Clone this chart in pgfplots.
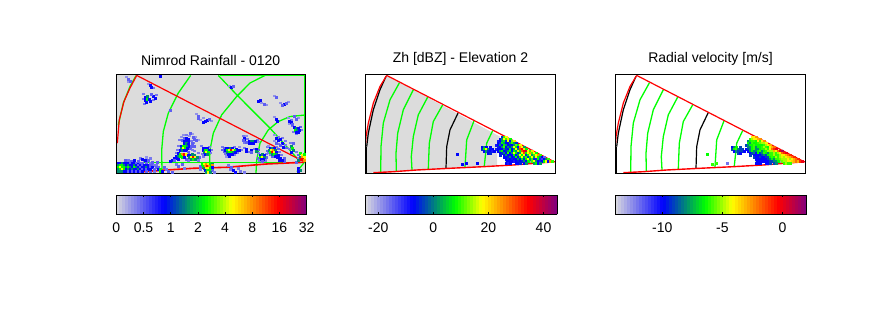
\documentclass[border=0pt]{standalone}
\usepackage{fontspec}
\setmainfont{Liberation Sans}
\usepackage{pgfplots}
\usepackage{pgfplotstable}
\pgfplotsset{compat=1.18}
\definecolor{bggray}{RGB}{220,220,220}
\definecolor{ringgreen}{RGB}{0,255,0}
\definecolor{wedgered}{RGB}{255,0,0}

% x y dbz vel, image pixels; the same gates in both radar panels
\pgfplotstableread{
x y dbz vel
502 137 -5 -4
504 137 10 -4
506 137 18 -2.5
500 139 -7 -6
502 139 2 -5
504 139 18 -4
506 139 10 -4
508 139 20 -3
510 139 8 -2.5
498 141 -9 -8
500 141 -7 -6.4
502 141 2 -6
504 141 8 -6
506 141 -5 -6.4
508 141 18 -4
510 141 -7 -6
512 141 12 -4
514 141 20 -2.5
498 143 -7 -6.4
500 143 -9 -8
502 143 8 -6
504 143 2 -6.4
506 143 -7 -6.4
508 143 -7 -6
510 143 2 -5.5
512 143 10 -5
514 143 2 -5
516 143 -5 -4
496 145 -9 -9
498 145 -7 -8
500 145 2 -6.4
502 145 -7 -6.4
504 145 8 -6
506 145 2 -6.4
508 145 -7 -6.4
510 145 -5 -6.4
512 145 -7 -6.4
514 145 2 -6
516 145 12 -5
518 145 8 -4
520 145 18 -3
482 147 -7 -10
484 147 2 -8
486 147 -7 -6.4
490 147 -7 -9
498 147 -5 -8
500 147 -7 -8
502 147 2 -6.4
504 147 10 -6
506 147 -7 -8
508 147 2 -6.4
510 147 -5 -6.4
512 147 2 -6
514 147 18 -5
516 147 8 -6
518 147 -7 -6.4
520 147 25 -4
522 147 18 -3
524 147 2 -2
482 149 -5 -9
484 149 8 -6.4
486 149 18 -6
488 149 2 -8
490 149 -7 -9
492 149 -7 -9
496 149 -9 -10
498 149 -7 -9
500 149 -7 -8
502 149 -7 -6.4
504 149 2 -6
506 149 -5 -8
508 149 -7 -8
510 149 8 -6.4
512 149 -7 -6
514 149 2 -6
516 149 18 -5
518 149 2 -6
520 149 30 -4
522 149 35 -2
524 149 20 -1
526 149 8 0
484 151 -7 -10
486 151 2 -8
488 151 -5 -9
490 151 -7 -9
492 151 -9 -9
494 151 -7 -10
498 151 -7 -10
500 151 2 -8
502 151 8 -6.4
504 151 -7 -8
506 151 -5 -8
508 151 2 -6.4
510 151 8 -6
512 151 -7 -8
514 151 8 -6.4
516 151 2 -6
518 151 20 -5
520 151 8 -5
522 151 30 -5
524 151 35 -3
526 151 40 -4
528 151 18 -2
530 151 10 0
532 151 20 1
488 153 -7 -9
490 153 -5 -10
500 153 -7 -10
502 153 -5 -9
504 153 2 -8
506 153 -7 -10
508 153 10 -6.4
510 153 -7 -9
512 153 2 -8
514 153 18 -6
516 153 8 -6.4
518 153 -5 -8
520 153 2 -6
522 153 18 -6
524 153 30 -5
526 153 8 -6
528 153 18 -5
530 153 25 -4
532 153 10 -2
534 153 18 -1
536 153 8 0
500 155 -5 -9
504 155 -7 -10
506 155 2 -10
508 155 -7 -10
510 155 -7 -10
512 155 -7 -9
514 155 8 -8
516 155 -7 -9
518 155 2 -6.4
520 155 18 -6
522 155 8 -6
524 155 18 -5
526 155 -5 -6
528 155 8 -6
530 155 18 -5
532 155 2 -4
534 155 10 -4
536 155 18 -3
538 155 25 -2
540 155 10 -1
504 157 -7 -9
506 157 -7 -10
508 157 -5 -10
510 157 2 -9
512 157 -7 -10
514 157 -5 -10
516 157 8 -9
518 157 -7 -9
520 157 8 -6.4
522 157 18 -6
524 157 2 -6.4
526 157 10 -5
528 157 -5 -6
530 157 8 -5
532 157 18 -4.5
534 157 2 -5
536 157 18 -4
538 157 8 -3.5
540 157 2 -3
542 157 -7 -2
544 157 -15 -1
506 159 -7 -10
508 159 -9 -10
510 159 -7 -10
512 159 -5 -10
514 159 -7 -10
516 159 -7 -10
518 159 2 -9
520 159 -7 -8
522 159 8 -6.4
524 159 -5 -8
526 159 8 -6
528 159 18 -6
530 159 2 -5.5
532 159 10 -5
534 159 -5 -5
536 159 -9 -5
538 159 8 -4
540 159 -9 -5
542 159 -12 -4
544 159 -7 -3
546 159 2 -2
548 159 10 -1
507 161 -7 -10
509 161 -7 -10
512 161 -7 -10
514 161 -9 -10
516 161 -7 -10
518 161 -5 -10
520 161 -7 -9
522 161 -5 -9
524 161 2 -8
526 161 -7 -8
528 161 8 -6.4
532 161 10 -5.5
534 161 18 -5
536 161 2 -5
538 161 -7 -4
540 161 -9 -4
542 161 -7 -3.5
544 161 8 -3
546 161 18 -2
548 161 -7 -3
550 161 25 -1
552 161 10 0
506 163 -7 -10
508 163 -9 -10
510 163 -7 -10
516 163 -7 -10
518 163 -7 -10
520 163 -5 -9
524 163 -7 -9
526 163 2 -8
534 163 2 -6
536 163 8 -5
538 163 -7 -6
540 163 2 -6
457 154 -7 -6.4
462 164 -7 -6
466 163 -7 -6
477 163 -7 -12
}\radargates

\pgfplotsset{
  colormap={radar}{rgb255(0cm)=(220,220,222); rgb255(25cm)=(0,0,255); rgb255(47cm)=(0,255,0);
    rgb255(61cm)=(255,255,0); rgb255(85cm)=(255,0,0); rgb255(100cm)=(128,0,128)},
  panel/.style={
    scale only axis, width=190.4pt, height=98pt,
    y dir=reverse, ymin=75.3, ymax=173,
    xtick=\empty, ytick=\empty,
    axis line style={black, line width=1pt},
    title style={at={(0.5,1)}, anchor=south, yshift=0pt, font=\fontsize{14}{16}\selectfont},
    colorbar horizontal, colorbar sampled,
    axis on top,
  },
  cbar/.style={
    at={(0,-0.2245)}, anchor=north west,
    scale only axis, height=19.3pt,
    samples=65,
    xtick pos=both, xticklabel pos=lower,
    tick align=inside, major tick length=2pt,
    tick style={black, line width=.7pt},
    axis line style={black, line width=1pt},
    ticklabel style={font=\fontsize{14}{16}\selectfont},
    xticklabel style={yshift=-5pt},
  },
  ring/.style={ringgreen, line width=1.3pt},
  edge/.style={wedgered, line width=1.2pt},
  blackring/.style={black, line width=1.2pt},
  gates/.style={scatter, only marks, mark=square*, mark size=1pt, point meta=explicit,
    scatter/use mapped color={draw=mapped color, fill=mapped color}},
}
\newcommand{\radarlines}{
  \addplot[ring] coordinates {(399.3,83.3) (390,100) (383.3,123.3) (381,146.7) (380.7,172.3)};
  \addplot[ring] coordinates {(413.3,90) (403.3,110) (397.7,133.3) (396,153.3) (396.3,171)};
  \addplot[ring] coordinates {(427.7,97.3) (418.3,115) (413.3,136.7) (411.3,156.7) (412,170)};
  \addplot[ring] coordinates {(442.7,105) (433.3,121.7) (429.3,143.3) (428.3,169)};
  \addplot[ring] coordinates {(474,121) (466.7,140) (465,167)};
  \addplot[ring] coordinates {(492.7,130.7) (486.7,143.3) (484.3,166)};
  \addplot[ring] coordinates {(509.7,142) (506.3,150) (506.3,165)};
  \addplot[blackring] coordinates {(458.3,112.7) (450,130) (446.7,146.7) (446,168.3)};
  \addplot[blackring] coordinates {(533,150) (529.7,156.7) (529.7,163.3)};
  \addplot[blackring] coordinates {(366.7,146.7) (368.3,133.3) (373.3,110) (380,90) (386,76.7)};
  \addplot[black, line width=1.5pt] coordinates {(366,146.7) (366,173)};
  \addplot[edge] coordinates {(365.7,143.3) (366,136.7) (368.3,123.3) (373.3,103.3) (380,86.7) (386.7,75.7)};
  \addplot[edge] coordinates {(386.7,75.7) (554,161.7)};
  \addplot[edge, line width=1.4pt] coordinates {(555.7,161.7) (513.3,165) (483.3,166.7) (450,168.3) (416.7,170) (393.3,171.7) (373.3,172.7)};
}

\begin{document}
\begin{tikzpicture}[x=1pt,y=1pt]
\path[use as bounding box] (0,0) rectangle (889,333);

% Nimrod rainfall
\begin{axis}[panel, at={(116.3pt,160pt)}, anchor=south west,
  width=188.7pt,
  xmin=116.3, xmax=305,
  point meta min=0, point meta max=7,
  colormap name=radar,
  title={Nimrod Rainfall - 0120},
  colorbar style={cbar, width=190.4pt,
    xtick={0,1,2,3,4,5,6,7}, xticklabels={0,0.5,1,2,4,8,16,32}},
  axis background/.style={fill=bggray},
]
% pale fringe round the echoes
\addplot[gates, mark size=.75pt] coordinates {
 (179,140)[.8] (181,137)[.6] (183,135)[.6] (186,135)[.8] (189,136)[.6] (192,134)[.5] (195,137)[.6] (198,140)[.5] (191,141)[.8] (193,143)[.8]
 (178,146)[.8] (177,150)[.8] (176,153)[.8] (190,149)[1] (192,150)[.8] (194,151)[.8] (198,153)[.8] (199,157)[1] (198,160)[.8] (188,160)[.8] (186,159)[1]
 (201,146)[.8] (209,147)[.8] (211,150)[.8] (210,153)[.8] (202,154)[.8] (203,156)[.8]
 (222,147)[.8] (222,150)[1] (224,152)[1] (225,154)[.8] (226,156)[.6] (234,155)[.8] (237,153)[.8] (241,150)[.8] (239,147)[.6] (234,147)[.8]
 (247,139)[.8] (257,140)[.8] (258,142)[.6] (247,143)[.8] (243,136)[.8] (246,136)[.6] (244,143)[.8] (244,148)[.8] (248,152)[.8] (254,149)[.8] (258,150)[1] (258,153)[.8]
 (258,153)[.8] (266,154)[.8] (266,157)[1] (258,158)[1] (259,160)[.8] (265,160)[.8]
 (267,147)[.8] (267,151)[1] (268,153)[.8] (268,146)[.6] (276,147)[.8] (278,149)[1] (279,152)[.8] (270,155)[.8] (272,156)[1] (281,155)[.8] (284,158)[1] (284,161)[1]
 (274,135)[.6] (278,137)[.8] (282,138)[.8] (285,141)[.8] (274,141)[.6] (278,144)[.8] (285,145)[.8] (286,148)[1] (290,143)[.8] (289,149)[.8]
 (292,126)[.8] (300,127)[1] (301,130)[.8] (293,132)[.8] (296,134)[.8] (291,120)[.8]
 (296,152)[.8] (298,155)[1] (298,158)[.8] (296,162)[1]
 (144,160)[.8] (150,163)[.8] (152,165)[1] (154,165)[.8] (156,165)[.8] (158,167)[1] (154,171)[.8] (150,171)[1] (164,167)[1] (166,169)[.8] (168,171)[1] (172,172)[1] (176,164)[.8] (178,166)[1] (182,164)[1] (184,168)[.8]
 (228,165)[.8] (230,169)[.8] (238,168)[.8] (240,171)[.8] (244,172)[.8] (200,166)[1] (200,169)[.8] (212,170)[1] (214,172)[.8]
 (143,94)[.8] (143,99)[.8] (144,104)[.8] (153,100)[.8] (156,95)[.8] (148,84)[.6] (153,88)[.8] (126,77)[.6] (128,82)[.6] (196,114)[.6] (200,120)[.6] (203,118)[.6] (211,121)[.6]
 (229,86)[.6] (261,103)[.6] (266,105)[.6] (274,96)[.6] (280,103)[.6] (288,102)[.6] (274,117)[.6] (288,118)[.6] (298,118)[.6] (289,124)[.6]
 (125,160)[1] (128,160)[.8] (131,161)[1] (140,158)[.8] (146,157)[.6] (150,158)[.8] (157,162)[1]
};
\addplot[gates] coordinates {
 (118,163)[1.7] (120,163)[1.7] (122,163)[2.6] (124,163)[1.7] (126,163)[1.7] (128,163)[1.7] (130,163)[1] (132,163)[1.7] (134,163)[1.7] (136,163)[1] (138,163)[1.7] (140,163)[1] (142,163)[1] (146,163)[1]
 (118,165)[2.6] (120,165)[3.3] (122,165)[3.3] (124,165)[2.6] (126,165)[1.7] (128,165)[2.6] (130,165)[1.7] (132,165)[1.7] (134,165)[2.6] (136,165)[1.7] (138,165)[1] (140,165)[1.7] (142,165)[1] (144,165)[1.7] (146,165)[1.7] (148,165)[1.7] (150,165)[1]
 (118,167)[3.3] (120,167)[4.3] (122,167)[3.3] (124,167)[3.3] (126,167)[2.6] (128,167)[3.3] (130,167)[2.6] (132,167)[1.7] (134,167)[3.3] (136,167)[2.6] (138,167)[1.7] (140,167)[1] (142,167)[1.7] (144,167)[1.7] (146,167)[2.6] (148,167)[1.7] (150,167)[1] (152,167)[1.7] (156,167)[1]
 (118,169)[2.6] (120,169)[3.3] (122,169)[4.3] (124,169)[3.3] (126,169)[1.7] (128,169)[2.6] (130,169)[1.7] (132,169)[2.6] (134,169)[1.7] (136,169)[1.7] (138,169)[2.6] (140,169)[1.7] (142,169)[1] (144,169)[1.7] (146,169)[1] (148,169)[1.7] (150,169)[1.7] (154,169)[1] (158,169)[1.7] (160,169)[3.3]
 (118,171)[2.6] (120,171)[2.6] (122,171)[2.6] (124,171)[1.7] (126,171)[1.7] (128,171)[1] (130,171)[1.7] (132,171)[1] (134,171)[1.7] (136,171)[1] (138,171)[1.7] (140,171)[1] (142,171)[1.7] (146,171)[1] (160,171)[3.3] (162,171)[1.7]
 (134,160)[1.7] (138,161)[1] (142,159)[1.7] (145,160)[1.7] (148,160)[1] (152,162)[1]
 (202,164)[3.3] (204,164)[4.3] (206,164)[5] (208,164)[4.3] (210,164)[3.3] (212,164)[2.6]
 (203,166)[3.3] (205,166)[5] (207,166)[6] (209,166)[5] (211,166)[3.3] (204,168)[2.6] (206,168)[4.3] (208,168)[4.3] (210,168)[3.3] (205,170)[1.7] (207,170)[3.3] (209,170)[3.3] (206,172)[2.6] (208,172)[4.3] (210,172)[2.6]
 (190,133)[1] (193,137)[1] (184,138)[1] (186,138)[1.7] (188,139)[1.7] (182,140)[1] (184,141)[1.7] (186,141)[1.7] (188,142)[1.7] (194,139)[1] (196,140)[1]
 (184,143)[1.7] (186,143)[2.6] (188,144)[1.7] (181,146)[1.7] (183,146)[3.3] (185,146)[3.3] (187,146)[2.6] (189,146)[1.7] (191,146)[1]
 (181,148)[2.6] (183,148)[4.3] (185,148)[3.3] (187,148)[1.7] (192,143)[1] (194,146)[1]
 (180,150)[1.7] (182,150)[2.6] (184,150)[1.7] (186,150)[1.7] (188,152)[1]
 (178,153)[1.7] (180,154)[3.3] (182,154)[5] (184,154)[6] (186,154)[4.3] (188,155)[1.7]
 (176,156)[1.7] (178,156)[2.6] (180,156)[3.3] (182,157)[3.3] (184,157)[1.7] (174,158)[1.7] (176,158)[1.7] (178,159)[1.7] (172,160)[1.7] (174,160)[1] (170,161)[1.7]
 (190,155)[1.7] (192,154)[2.6] (194,155)[2.6] (189,157)[2.6] (191,157)[4.3] (193,157)[6] (195,157)[4.3] (197,157)[2.6] (191,159)[2.6] (193,159)[3.3] (195,159)[2.6]
 (203,148)[1.7] (205,148)[1.7] (207,148)[1.7] (203,150)[1.7] (205,150)[3.3] (207,150)[3.3] (209,150)[1.7] (204,152)[2.6] (206,152)[4.3] (208,152)[3.3] (205,154)[1.7] (207,154)[2.6]
 (224,148)[1] (226,148)[1.7] (228,148)[1.7] (230,148)[2.6] (232,148)[1.7] (236,149)[1.7]
 (225,150)[1.7] (227,150)[3.3] (229,150)[4.3] (231,150)[6] (233,150)[4.3] (235,150)[3.3] (237,150)[1.7] (239,150)[1.7]
 (227,152)[2.6] (229,152)[3.3] (231,152)[3.3] (233,152)[2.6] (235,152)[1.7] (228,154)[1.7] (230,154)[1.7] (232,154)[1.7] (229,156)[1.7]
 (249,141)[1.7] (251,141)[2.6] (253,141)[2.6] (255,141)[1.7] (249,143)[1.7] (251,143)[1.7] (253,143)[1.7]
 (244,138)[1.7] (244,140)[1.7] (246,142)[1] (246,149)[1.7] (246,151)[1.7] (251,150)[1.7] (251,152)[1] (256,149)[1.7] (256,151)[2.6]
 (260,155)[1.7] (262,154)[2.6] (264,155)[1.7] (260,157)[3.3] (262,157)[4.3] (264,157)[2.6] (261,159)[1.7] (263,159)[1.7] (262,161)[1]
 (270,148)[1.7] (272,148)[2.6] (274,148)[1.7] (269,150)[2.6] (271,150)[4.3] (273,150)[5] (275,150)[2.6] (270,152)[3.3] (272,152)[6] (274,152)[4.3] (276,152)[1.7]
 (272,154)[2.6] (274,154)[3.3] (276,154)[2.6] (278,155)[1.7] (275,156)[1.7] (277,157)[1.7] (280,158)[1.7] (282,160)[1.7] (279,160)[1.7]
 (294,127)[1.7] (296,128)[2.6] (298,128)[1.7] (295,130)[3.3] (297,130)[2.6] (299,130)[1.7] (296,132)[1.7] (298,132)[1.7]
 (291,146)[2.6] (292,148)[3.3] (293,150)[2.6] (291,152)[1.7]
 (300,153)[3.3] (302,155)[4.3] (304,154)[3.3] (300,157)[2.6] (302,157)[5] (304,157)[4.3] (300,159)[6] (302,159)[6] (304,160)[5] (298,160)[2.6]
 (231,167)[1] (233,170)[1.7] (235,172)[1.7] (212,165)[5] (212,167)[1.7] (298,168)[1.7] (300,170)[2.6] (298,171)[1.7]
 (276,138)[1.7] (278,140)[1.7] (280,139)[1.7] (282,143)[1.7] (276,143)[1] (280,145)[1] (283,147)[1.7] (293,143)[1]
 (145,97)[1.7] (147,96)[2.6] (145,100)[1.7] (147,99)[3.3] (149,99)[1.7] (150,101)[1.7] (153,96)[1.7] (155,98)[1.7] (151,94)[1] (146,102)[1.7]
 (150,85)[1.7] (151,87)[1.7] (128,79)[1] (130,81)[1] (160,76)[1.7]
 (198,116)[1] (198,118)[1] (205,121)[1.7] (207,120)[1.7] (209,119)[1] (203,122)[1.7]
 (231,87)[1.7] (233,86)[1] (258,101)[1.7] (260,100)[1.7] (264,104)[1] (276,97)[1] (284,104)[1.7] (286,103)[1] (282,105)[1]
 (276,119)[1.7] (277,121)[1.7] (289,121)[1.7] (291,122)[1.7] (294,116)[1] (296,119)[1] (292,124)[1]
 (243,140)[1] (170,110)[1]
};
\addplot[ring, line width=.7pt] coordinates {(220,75.5) (305,75.5)};
\addplot[ring, line width=1.5pt] coordinates {(304.5,75.5) (304.5,162)};
\addplot[ring, line width=1.3pt] coordinates {(116.3,162.3) (305,162.3)};
\addplot[ring] coordinates {(118.3,125) (123.3,103.3) (130,86.7) (136,76)};
\addplot[ring] coordinates {(190.7,75.7) (178.3,93.3) (168.3,113.3) (163.3,131.7) (161.7,150) (162,173)};
\addplot[ring] coordinates {(265,75.7) (250,83.3) (236.7,96.7) (221.7,115) (213.3,133.3) (210,150) (209.3,173)};
\addplot[ring] coordinates {(304,115.3) (290,116.7) (278.3,121.7) (268.3,130) (260,143.3) (256.7,160) (256,173)};
\addplot[ring] coordinates {(218.3,75.7) (236.7,95) (250,108.3) (270,128.3) (286.7,146.7) (300,161.7)};
\addplot[ring] coordinates {(304.3,162.3) (297,171.7)};
\addplot[edge] coordinates {(117.3,143.3) (119.3,120) (124,101.7) (130,88.3) (136.7,75.7)};
\addplot[edge] coordinates {(136.7,75.7) (304,161.7)};
\addplot[edge, line width=1.6pt] coordinates {(304,162.3) (266.7,164) (226.7,167.3) (193.3,168.3) (166.7,170) (143.3,171.7) (120,172.3)};
\end{axis}

% reflectivity
\begin{axis}[panel, at={(365.3pt,160pt)}, anchor=south west,
  xmin=365.3, xmax=555.7,
  point meta min=-24.7, point meta max=45,
  colormap name=radar,
  title={Zh [dBZ] - Elevation 2},
  colorbar style={cbar, width=192pt,
    xtick={-20,0,20,40}, xticklabels={-20,0,20,40}},
]
\addplot[fill=bggray, draw=none] coordinates {(386.7,75.7) (378.3,90) (371.7,110) (367.3,130) (365.7,146.7) (365.7,173)
  (383,172.3) (416.7,170) (450,168.3) (483.3,166.7) (497,165.5) (497,145) (500,136.7)} -- cycle;
\addplot[gates] table[x=x, y=y, meta=dbz] {\radargates};
\radarlines
\end{axis}

% radial velocity
\begin{axis}[panel, at={(615.3pt,160pt)}, anchor=south west,
  xmin=365.3, xmax=555.7,
  point meta min=-13.9, point meta max=2,
  colormap name=radar,
  title={Radial velocity [m/s]},
  colorbar style={cbar, width=191.4pt,
    xtick={-10,-5,0}, xticklabels={-10,-5,0}},
]
\addplot[gates] table[x=x, y=y, meta=vel] {\radargates};
\radarlines
\end{axis}
\end{tikzpicture}
\end{document}
